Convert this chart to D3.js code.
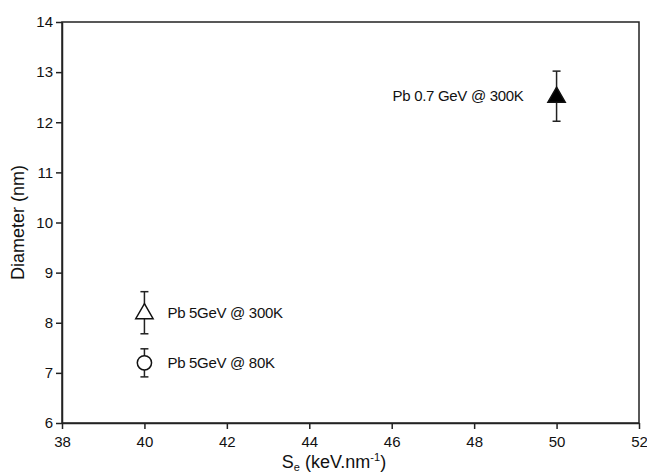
<!DOCTYPE html>
<html>
<head>
<meta charset="utf-8">
<script src="https://cdn.jsdelivr.net/npm/d3@7"></script>
<style>
  body { margin: 0; background: #fff; }
  text { font-family: "Liberation Sans", Arial, sans-serif; fill: #111; }
</style>
</head>
<body>
<div id="chart"></div>
<script>
// data
var labels = ['Pb 5GeV @ 300K', 'Pb 5GeV @ 80K', 'Pb 0.7 GeV @ 300K'];
var seValues = [40, 40, 50];
var diameters = [8.2, 7.2, 12.52];
var errors = [0.42, 0.28, 0.5];
var symbols = ['triangle-open', 'circle-open', 'triangle-filled'];
var labelSide = ['right', 'right', 'left'];
var xTicks = [38, 40, 42, 44, 46, 48, 50, 52];
var yTicks = [6, 7, 8, 9, 10, 11, 12, 13, 14];

var width = 647;
var height = 476;

var svg = d3.select('#chart')
    .append('svg')
    .attr('width', width)
    .attr('height', height);

var x = d3.scaleLinear().domain([38, 52]).range([62, 639]);
var y = d3.scaleLinear().domain([6, 14]).range([423, 22]);

// frame
svg.append('rect')
    .attr('x', x(38))
    .attr('y', y(14))
    .attr('width', x(52) - x(38))
    .attr('height', y(6) - y(14))
    .attr('fill', 'none')
    .attr('stroke', '#222')
    .attr('stroke-width', 1.5);

var xAxis = svg.append('g')
    .attr('transform', 'translate(0,' + y(6) + ')')
    .call(d3.axisBottom(x).tickValues(xTicks).tickSize(6).tickSizeOuter(0).tickPadding(7));

var yAxis = svg.append('g')
    .attr('transform', 'translate(' + x(38) + ',0)')
    .call(d3.axisLeft(y).tickValues(yTicks).tickSize(6).tickSizeOuter(0).tickPadding(3));

[xAxis, yAxis].forEach(function(ax) {
    ax.select('.domain').attr('stroke', '#222').attr('stroke-width', 1.5);
    ax.selectAll('.tick line').attr('stroke', '#222').attr('stroke-width', 1.5);
    ax.selectAll('.tick text')
        .style('font-family', '"Liberation Sans", Arial, sans-serif')
        .style('font-size', '15px')
        .attr('fill', '#111');
});

// axis titles
svg.append('text')
    .attr('transform', 'translate(24,' + ((y(6) + y(14)) / 2) + ') rotate(-90)')
    .attr('text-anchor', 'middle')
    .style('font-size', '18px')
    .text('Diameter (nm)');

var xt = svg.append('text')
    .attr('x', 334)
    .attr('y', 468)
    .attr('text-anchor', 'middle')
    .style('font-size', '18px');
xt.append('tspan').text('S');
xt.append('tspan').attr('dy', 3).style('font-size', '11px').text('e');
xt.append('tspan').attr('dy', -3).text(' (keV.nm');
xt.append('tspan').attr('dy', -7).style('font-size', '11px').text('-1');
xt.append('tspan').attr('dy', 7).text(')');

// points with error bars
var points = svg.selectAll('.pt')
    .data(seValues.map(function(d, i) {
        return { se: d, dia: diameters[i], err: errors[i], sym: symbols[i], label: labels[i], side: labelSide[i] };
    }))
    .enter()
    .append('g')
    .attr('class', 'pt');

var cap = 4;
points.append('line')
    .attr('x1', function(d) { return x(d.se); })
    .attr('x2', function(d) { return x(d.se); })
    .attr('y1', function(d) { return y(d.dia + d.err); })
    .attr('y2', function(d) { return y(d.dia - d.err); })
    .attr('stroke', '#222').attr('stroke-width', 1.5);
points.append('line')
    .attr('x1', function(d) { return x(d.se) - cap; })
    .attr('x2', function(d) { return x(d.se) + cap; })
    .attr('y1', function(d) { return y(d.dia + d.err); })
    .attr('y2', function(d) { return y(d.dia + d.err); })
    .attr('stroke', '#222').attr('stroke-width', 1.5);
points.append('line')
    .attr('x1', function(d) { return x(d.se) - cap; })
    .attr('x2', function(d) { return x(d.se) + cap; })
    .attr('y1', function(d) { return y(d.dia - d.err); })
    .attr('y2', function(d) { return y(d.dia - d.err); })
    .attr('stroke', '#222').attr('stroke-width', 1.5);

var triSym = d3.symbol().type(d3.symbolTriangle).size(130);
var circSym = d3.symbol().type(d3.symbolCircle).size(160);

points.append('path')
    .attr('transform', function(d) { return 'translate(' + x(d.se) + ',' + (y(d.dia) + (d.sym === 'circle-open' ? 0 : 1)) + ')'; })
    .attr('d', function(d) { return d.sym === 'circle-open' ? circSym() : triSym(); })
    .attr('fill', function(d) { return d.sym === 'triangle-filled' ? '#000' : '#fff'; })
    .attr('stroke', '#111')
    .attr('stroke-width', 1.5);

points.append('text')
    .attr('x', function(d) { return d.side === 'right' ? x(d.se) + 23 : x(d.se) - 33; })
    .attr('y', function(d) { return y(d.dia) + 5; })
    .attr('text-anchor', function(d) { return d.side === 'right' ? 'start' : 'end'; })
    .style('font-size', '15px')
    .style('letter-spacing', '-0.3px')
    .text(function(d) { return d.label; });
</script>
</body>
</html>
